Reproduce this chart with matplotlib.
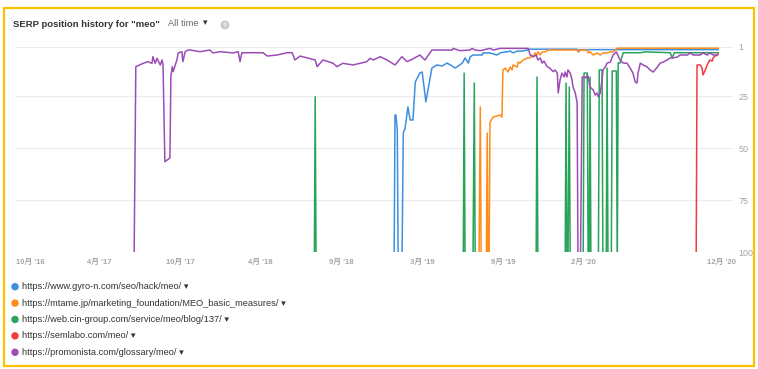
import pandas as pd
import numpy as np
import matplotlib
matplotlib.use("Agg")
import matplotlib.pyplot as plt
from matplotlib.patches import Rectangle, Circle

plt.rcParams['font.family'] = ['Liberation Sans', 'Noto Sans CJK JP', 'DejaVu Sans']

# Dati: giorni dall'inizio dell'asse e posizione SERP (OFF = fuori classifica)
START = pd.Timestamp('2016-10-25')
OFF = 110

gyro_days = [822, 824, 826, 829, 831, 839, 842, 846, 852, 857, 863, 868, 878, 883, 891, 904,
             915, 926, 937, 948, 954, 961, 970, 976, 983, 987, 993, 1013, 1015, 1030, 1045,
             1052, 1063, 1067, 1074, 1080, 1089, 1100, 1111, 1113, 1219, 1221, 1223, 1525]
gyro_rank = [OFF, 34, 34, 41.2, OFF, OFF, 42.7, 40.3, 30.1, 36.4, 36.4, 18.1, 13.8, 13.3, 27.7, 11.4,
             9.9, 10.4, 9, 10.4, 11.4, 10.4, 9, 6.5, 9, 6, 5.1, 5.1, 4.1, 4.1, 5.1,
             4.1, 3.6, 3.6, 3.2, 4.1, 3.2, 3.2, 2.7, 2.3, 2.3, 3.5, 2.5, 2.5]

mtame_days = [1006, 1009, 1011, 1022, 1024, 1026, 1028, 1030, 1037, 1045, 1052, 1056, 1058, 1063,
              1069, 1074, 1078, 1080, 1089, 1091, 1095, 1102, 1111, 1117, 1121, 1124, 1128, 1132,
              1134, 1139, 1143, 1150, 1156, 1221, 1223, 1226, 1241, 1243, 1247, 1254, 1262, 1269,
              1275, 1284, 1291, 1297, 1306, 1525]
mtame_rank = [OFF, 30.1, OFF, OFF, 42.7, OFF, OFF, 37.4, 35, 34.5, 34, 35, 12.3, 11.4,
              13.3, 10.9, 12.3, 9.9, 10.9, 8.5, 9, 7.5, 6.5, 6.5, 5.1, 6.1, 4.1, 5.1,
              3.6, 5.1, 3.6, 3.6, 2.7, 2.7, 3.6, 2.7, 2.7, 4.1, 3.6, 5.1, 4.1, 5.1,
              4.1, 4.1, 3.6, 3.6, 1.8, 1.8]

cin_days = [649, 651, 653, 972, 974, 976, 993, 996, 998, 1130, 1132, 1134, 1193, 1195, 1197,
            1199, 1202, 1204, 1232, 1234, 1241, 1243, 1245, 1247, 1249, 1265, 1267, 1273, 1275,
            1282, 1284, 1286, 1293, 1295, 1304, 1306, 1308, 1312, 1319, 1356, 1367, 1421, 1425,
            1430, 1525]
cin_rank = [OFF, 25.2, OFF, OFF, 13.8, OFF, OFF, 18.6, OFF, OFF, 15.7, OFF, OFF, 18.6, OFF,
            OFF, 20.5, OFF, OFF, 13.8, 13.8, OFF, OFF, 15.7, OFF, OFF, 12.3, 12.3, OFF,
            OFF, 11.4, OFF, OFF, 12.8, 12.8, OFF, 8.9, 9, 4, 4, 3.6, 4, 6.5,
            4, 4]

semlabo_days = [1477, 1479, 1486, 1490, 1492, 1497, 1501, 1503, 1507, 1512, 1514, 1518, 1523, 1525]
semlabo_rank = [OFF, 9.9, 9.9, 11.4, 14.7, 12.3, 9.9, 9, 7.5, 8, 6.5, 5.6, 5.1, 4.5]

promo_days = [258, 262, 278, 288, 297, 299, 304, 308, 315, 319, 321, 325, 336, 338, 341, 343,
              351, 354, 362, 364, 369, 375, 380, 401, 423, 429, 445, 473, 484, 488, 492, 538,
              547, 568, 590, 601, 607, 618, 651, 655, 668, 690, 698, 711, 733, 748, 763, 770,
              777, 792, 807, 824, 839, 850, 861, 878, 889, 904, 948, 950, 965, 987, 991, 998,
              1009, 1030, 1037, 1052, 1074, 1113, 1117, 1124, 1130, 1134, 1139, 1143, 1147,
              1154, 1160, 1167, 1171, 1176, 1178, 1182, 1186, 1191, 1193, 1197, 1199, 1204,
              1208, 1210, 1215, 1219, 1221, 1226, 1230, 1234, 1238, 1241, 1243, 1247, 1254,
              1258, 1262, 1265, 1269, 1273, 1275, 1280, 1284, 1291, 1297, 1304, 1312, 1319,
              1327, 1334, 1340, 1345, 1349, 1351, 1356, 1362, 1371, 1377, 1384, 1393, 1399,
              1406, 1414, 1421, 1427, 1436, 1442, 1458, 1464, 1471, 1486, 1492, 1501, 1507,
              1514, 1523]
promo_rank = [OFF, 10.7, 9.1, 8.3, 9.1, 5.9, 9.1, 6.7, 9.9, 7.5, 9.9, 56.5, 54.7, 15.5, 10.7, 13.1,
              7.5, 4.1, 3.5, 8.3, 3.5, 2.7, 2.7, 3.5, 2.7, 4.1, 3.5, 4.1, 3.5, 8.3, 4, 4,
              5.6, 5.1, 4, 4, 7.5, 5.6, 7.5, 10.7, 7.5, 9.1, 10.7, 9.1, 9.9, 9.1, 8.3, 6.7,
              7.5, 5.9, 7.5, 9.9, 5.9, 8.3, 7.2, 5.1, 7.5, 2.7, 2.7, 1.9, 3, 2.7, 1.9, 2.7,
              3, 1.9, 2.7, 1.9, 1.9, 1.9, 5.1, 5.9, 5.1, 7.5, 6.5, 9, 8,
              10.7, 11.5, 13.1, 12.3, 13.8, 23.4, 17.1, 13.8, 15.7, 13.3, 15.7, 12.3, 13.8,
              17.1, 20.5, 23.4, 28.2, OFF, OFF, 15.7, 15.7, 16.2, 14.7, 15.7, 20.5, 22,
              24.4, 23.4, 25.3, 23.4, 17.1, 12.3, 10.9, 9, 8.5, 5.1, 3.6, 7.5, 9,
              9, 11.4, 13.8, 18.1, 18.6, 13.8, 9, 9.9, 10.9, 12.3, 13.3, 10.9, 9,
              8.5, 7.5, 6.5, 6.5, 6.1, 5.1, 5.1, 4.1, 5.1, 5.1, 4.1, 5.1, 4.1,
              5.1, 5.1]

urls = ["https://www.gyro-n.com/seo/hack/meo/",
        "https://mtame.jp/marketing_foundation/MEO_basic_measures/",
        "https://web.cin-group.com/service/meo/blog/137/",
        "https://semlabo.com/meo/",
        "https://promonista.com/glossary/meo/"]
colori = ['#3d8fe0', '#ff8c1a', '#27a35a', '#f23c3c', '#9b4db5']

tick_dates = ['2016-11-27', '2017-04-25', '2017-10-18', '2018-04-09', '2018-10-02',
              '2019-03-27', '2019-09-18', '2020-03-10', '2021-01-03']
tick_labels = ["10月 '16", "4月 '17", "10月 '17", "4月 '18", "9月 '18",
               "3月 '19", "9月 '19", "2月 '20", "12月 '20"]
y_ticks = [1, 25, 50, 75, 100]


def to_dates(days):
    return START + pd.to_timedelta(days, unit='D')


serie = [(gyro_days, gyro_rank), (mtame_days, mtame_rank), (cin_days, cin_rank),
         (semlabo_days, semlabo_rank), (promo_days, promo_rank)]

W, H = 758, 369
fig = plt.figure(figsize=(W / 100, H / 100), dpi=100)
ax = fig.add_axes([15 / W, 1 - 252 / H, (733 - 15) / W, (252 - 46.5) / H])

for (d, r), c in zip(serie, colori):
    ax.plot(to_dates(d), r, color=c, lw=1.1, solid_joinstyle='round')

ax.set_xlim(START, to_dates(1557))
ax.set_ylim(100, 1)
ax.set_yticks(y_ticks)
ax.yaxis.tick_right()
ax.tick_params(axis='y', length=0, pad=4, labelsize=6.5, labelcolor='#a6a6a6')
ax.set_xticks(pd.to_datetime(tick_dates))
ax.set_xticklabels(tick_labels)
ax.tick_params(axis='x', length=0, pad=5, labelsize=5.6, labelcolor='#a6a6a6')
for lab in ax.get_xticklabels():
    lab.set_fontweight('bold')
ax.grid(axis='y', color='#ececec', lw=0.9)
ax.set_axisbelow(True)
for s in ax.spines.values():
    s.set_visible(False)

# Livello decorazioni in pixel
deco = fig.add_axes([0, 0, 1, 1], zorder=-1)
deco.set_xlim(0, W)
deco.set_ylim(H, 0)
deco.axis('off')
deco.add_patch(Rectangle((4, 7.5), 750, 358, fill=False, ec='#ffc000', lw=1.6))

deco.text(13, 24.5, 'SERP position history for "meo"', fontsize=6.8, fontweight='bold',
          color='#333333', va='center')
deco.text(168, 23, 'All time', fontsize=6.7, color='#666666', va='center')
deco.text(203, 22.5, '▾', fontsize=6.5, color='#333333', va='center')
deco.add_patch(Circle((225, 25), 3.8, color='#cccccc'))
deco.text(225, 25.3, '?', fontsize=4.5, color='white', ha='center', va='center', fontweight='bold')

for i, (u, c) in enumerate(zip(urls, colori)):
    yy = 286.7 + i * 16.4
    deco.add_patch(Circle((15, yy), 3, color=c))
    deco.text(22.5, yy, u + ' ▾', fontsize=6.7, color='#333333', va='center')

fig.savefig('out.png', dpi=100)
